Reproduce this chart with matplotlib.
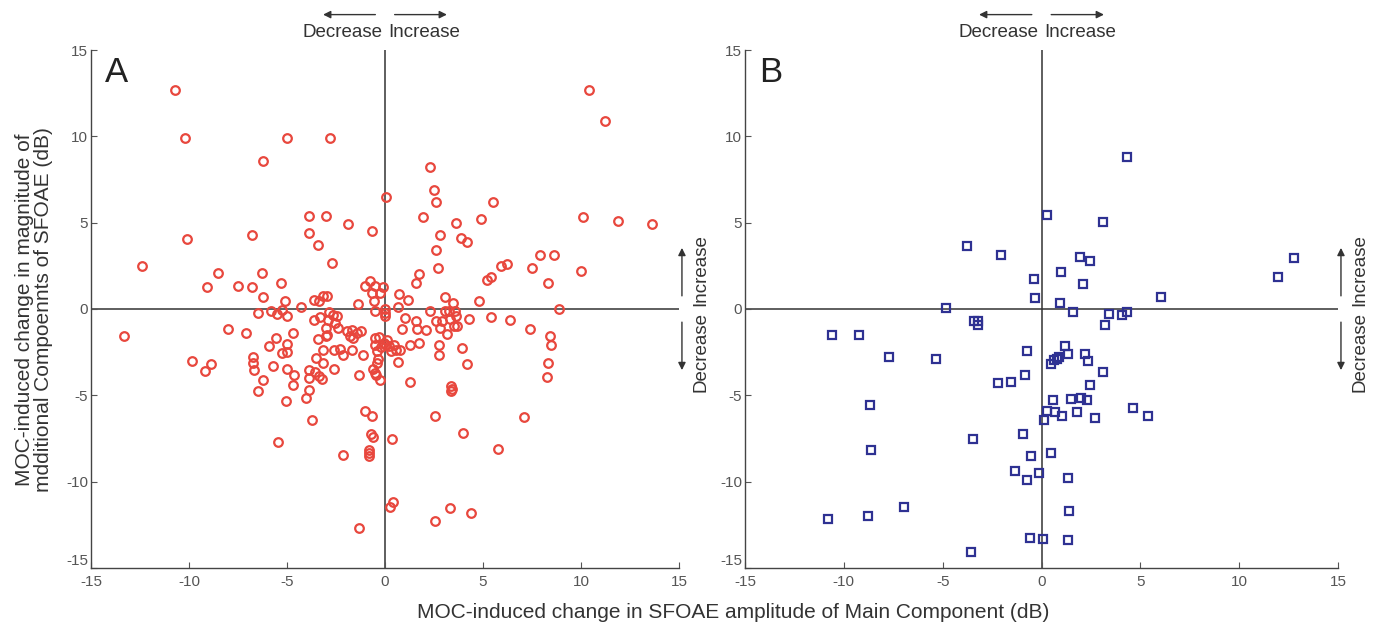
import matplotlib
matplotlib.use("Agg")
import matplotlib.pyplot as plt

plt.rcParams['font.family'] = ['Liberation Sans', 'DejaVu Sans']
plt.rcParams['axes.unicode_minus'] = False

# Panel A: additional components (red circles)
a_x = [-10.7, 10.4, 11.2, -10.2, -5.0, -2.8, -6.25, 2.3, 2.5, 0.05, 2.6, 5.5, -3.9, -3.0, 1.95,
       10.1, 11.9, 13.6, -1.9, 3.6, 4.9, -0.65, -6.8, -3.9, -10.1, 2.8, 3.9, 4.2, -3.4, 2.6,
       -12.4, -2.7, 2.7, 5.9, 6.2, 7.5, 7.9, 8.6, 10.0, 8.3, 8.9, -8.5, -6.3, -9.1, -7.5,
       -6.8, -5.3, -6.25, 1.75, 1.6, 5.2, 5.4, 4.8,
       -5.1, -6.5, -5.8, -5.5, -5.27, -5.0, -4.3, -3.62, -3.35, -3.15, -2.94, -3.62, -3.32,
       -2.84, -2.67, -2.47, -2.89, -2.55, -3.0, -2.98, -2.38, -1.96, -1.7, -1.79, -1.62,
       -1.45, -1.22, -1.39, -1.02, -0.77, -0.51, -0.26, -0.68, -0.12, -0.56, -0.51, 0.0, 0.0,
       -5.56, -5.9, -5.02, -4.68, -5.27, -4.98, -3.4, -3.03, -3.15, -3.52, -3.15, -2.6, -2.3,
       -2.16, -1.67, -1.1, -2.6, -3.57, -0.51, -0.29, -0.05, -0.51, -0.43, -0.2, -0.34, -0.43,
       0.71, 1.17, 0.68, 2.28, 3.06, 3.47, 3.27, 3.06, 3.57, 3.64, 3.52, 3.69, 3.18, 2.93,
       2.62, 2.79, 3.3, 4.29, 5.39, 6.36, 7.4, 8.42, 8.45, 8.33, 8.28, 1.02, 0.88, 1.56, 1.65,
       2.07, 1.26, 1.73, 2.76, 2.76, 3.91, 4.2, 1.28, 0.12, 0.03, 0.2, 0.46, 0.29, 0.54, 0.75,
       0.68, 0.0,
       -13.3, -8.0, -7.1, -9.85, -8.9, -9.2, -6.75, -6.75, -6.7, -6.5, -6.2, -5.7, -5.05,
       -5.45, -5.0, -4.65, -4.7, -3.9, -3.9, -3.9, -4.05, -3.75, -3.35, -3.2, -2.15, -1.0,
       -0.65, -0.73, -0.6, -0.84, -0.82, -0.8, -1.35, -0.6, -0.5, -0.45, -0.23, 0.35, 0.23,
       0.43, -1.32, 2.57, 3.34, 4.41, 2.55, 3.98, 5.77, 7.11, 3.39, 3.41, 3.39]
a_y = [12.7, 12.7, 10.9, 9.9, 9.9, 9.9, 8.6, 8.2, 6.9, 6.5, 6.2, 6.2, 5.4, 5.4, 5.3,
       5.35, 5.1, 4.9, 4.9, 5.0, 5.2, 4.5, 4.3, 4.4, 4.05, 4.3, 4.1, 3.9, 3.7, 3.4,
       2.5, 2.65, 2.4, 2.5, 2.6, 2.4, 3.1, 3.1, 2.2, 1.5, 0.0, 2.1, 2.1, 1.3, 1.35,
       1.3, 1.5, 0.7, 2.0, 1.5, 1.7, 1.85, 0.45,
       0.44, -0.23, -0.13, -0.29, -0.04, -0.42, 0.1, 0.5, 0.44, 0.73, 0.73, -0.62, -0.48,
       -0.17, -0.33, -0.42, -0.62, -0.81, -1.1, -1.48, -1.1, -1.29, -1.19, -1.58, -1.67,
       -1.38, -1.25, 0.31, 1.31, 1.6, 1.31, 0.92, 0.92, 1.25, 0.44, -0.1, -0.23, 0.0,
       -1.67, -2.12, -2.02, -1.38, -2.54, -2.48, -1.71, -1.58, -2.4, -2.83, -3.12, -2.4, -2.29,
       -2.67, -2.38, -2.67, -3.45, -3.65, -1.67, -1.63, -1.96, -2.06, -2.44, -2.21, -2.92, -3.12,
       0.88, 0.5, 0.1, -0.1, 0.67, 0.35, -0.1, -0.13, -0.13, -0.42, -0.96, -1.0, -1.44, -0.71,
       -0.67, -1.1, -0.56, -0.58, -0.48, -0.62, -1.13, -1.58, -2.1, -3.12, -3.94, -0.52, -1.13,
       -0.71, -1.13, -1.19, -2.1, -1.96, -2.06, -2.67, -2.25, -3.17, -4.21, -1.77, -2.06, -2.15,
       -2.06, -2.44, -2.4, -2.35, -3.08, -0.4,
       -1.55, -1.15, -1.4, -3.0, -3.2, -3.6, -2.8, -3.1, -3.55, -4.75, -4.1, -3.3, -5.35,
       -7.7, -3.5, -3.8, -4.4, -3.55, -4.0, -4.7, -5.15, -6.45, -3.9, -4.05, -8.45, -5.9,
       -6.2, -7.26, -7.4, -8.14, -8.33, -8.5, -3.8, -3.5, -3.7, -3.85, -4.13, -7.5, -11.44,
       -11.17, -12.7, -12.27, -11.5, -11.8, -6.22, -7.2, -8.1, -6.28, -4.47, -4.66, -4.76]

# Panel B: blue squares
b_x = [4.34, 0.29, 3.13, -3.76, -2.06, 1.97, 2.44, 12.77, 11.95, 1.01, -0.4, 2.1, -0.31,
       6.06, 0.96, -4.81, 1.57, 3.42, 4.09, 4.32, -3.42, -3.2, -3.2, -10.6, -9.22, -7.72,
       -5.32, -0.72, 1.19, 1.34, 2.19, 2.35, 0.46, 0.62, 0.76, 0.89, 3.13, 2.46, -0.85,
       -2.19, -1.52, -8.7, 0.56, 1.5, 2.01, 2.28, 0.29, 0.69, 1.05, 1.81, 0.11, 2.73, 4.63,
       5.37, -3.47, -0.92, -8.61, -0.54, 0.47, -1.34, -0.72, -0.13, 1.34, -6.94, -10.78,
       -8.77, 1.41, -0.56, 0.07, 1.36, -3.56, 3.2]
b_y = [8.82, 5.42, 5.05, 3.63, 3.11, 2.99, 2.76, 2.95, 1.83, 2.17, 1.75, 1.44, 0.66,
       0.72, 0.33, 0.04, -0.16, -0.27, -0.35, -0.19, -0.67, -0.67, -0.92, -1.5, -1.5, -2.8,
       -2.88, -2.46, -2.17, -2.61, -2.59, -2.99, -3.19, -2.96, -2.87, -2.77, -3.65, -4.41,
       -3.84, -4.28, -4.24, -5.57, -5.28, -5.2, -5.14, -5.28, -5.91, -5.97, -6.2, -5.97,
       -6.45, -6.3, -5.72, -6.22, -7.54, -7.26, -8.18, -8.5, -8.33, -9.37, -9.9, -9.52,
       -9.79, -11.44, -12.19, -11.96, -11.71, -13.24, -13.32, -13.36, -14.09, -0.92]

ticks = [-15, -10, -5, 0, 5, 10, 15]

W, H = 1383, 634
fig = plt.figure(figsize=(W / 100, H / 100), dpi=100)
axA = fig.add_axes([91 / W, 1 - 568 / H, 588 / W, 518 / H])
axB = fig.add_axes([745 / W, 1 - 568 / H, 593 / W, 518 / H])

axA.plot(a_x, a_y, 'o', mfc='none', mec='#e8473d', ms=6.2, mew=1.6, zorder=3)
axB.plot(b_x, b_y, 's', mfc='none', mec='#2e3192', ms=5.2, mew=1.6, zorder=3)

arrow = dict(arrowstyle='-|>', color='#333333', lw=1.0, mutation_scale=11)
for ax, letter in ((axA, 'A'), (axB, 'B')):
    ax.set_xlim(-15, 15)
    ax.set_ylim(-15, 15)
    ax.set_xticks(ticks)
    ax.set_yticks(ticks)
    ax.tick_params(direction='in', length=4, width=0.8, labelsize=11,
                   labelcolor='#555555', color='#555555', pad=2)
    ax.tick_params(axis='x', pad=5)
    # nudge the bottom y tick label up a little, as in the original
    ax.get_yticklabels()[0].set_verticalalignment('bottom')
    for s in ('top', 'right'):
        ax.spines[s].set_visible(False)
    for s in ('left', 'bottom'):
        ax.spines[s].set_color('#444444')
        ax.spines[s].set_linewidth(1.0)
    ax.axhline(0, color='#333333', lw=1.1, zorder=1)
    ax.axvline(0, color='#333333', lw=1.1, zorder=1)
    ax.text(-14.3, 13.7, letter, fontsize=25, ha='left', va='center', color='#222222')

    # top annotation
    ax.annotate('', xy=(-3.3, 17.05), xytext=(-0.35, 17.05), arrowprops=arrow,
                annotation_clip=False)
    ax.annotate('', xy=(3.3, 17.05), xytext=(0.35, 17.05), arrowprops=arrow,
                annotation_clip=False)
    ax.text(-0.15, 16.0, 'Decrease', ha='right', va='center', fontsize=13.5,
            color='#333333', clip_on=False)
    ax.text(0.15, 16.0, 'Increase', ha='left', va='center', fontsize=13.5,
            color='#333333', clip_on=False)

    # right annotation
    ax.annotate('', xy=(15.15, 3.7), xytext=(15.15, 0.6), arrowprops=arrow,
                annotation_clip=False)
    ax.annotate('', xy=(15.15, -3.7), xytext=(15.15, -0.6), arrowprops=arrow,
                annotation_clip=False)
    ax.text(16.1, -0.15, 'Decrease', rotation=90, ha='center', va='top', fontsize=13.5,
            color='#333333', clip_on=False)
    ax.text(16.1, 0.15, 'Increase', rotation=90, ha='center', va='bottom', fontsize=13.5,
            color='#333333', clip_on=False)

fig.text(34 / W, 1 - 310 / H,
         'MOC-induced change in magnitude of\nmdditional Compoennts of SFOAE (dB)',
         rotation=90, ha='center', va='center', fontsize=15, color='#333333',
         linespacing=1.05)
fig.text(733 / W, 1 - 612 / H,
         'MOC-induced change in SFOAE amplitude of Main Component (dB)',
         ha='center', va='center', fontsize=15, color='#333333')

fig.savefig('out.png', dpi=100)
